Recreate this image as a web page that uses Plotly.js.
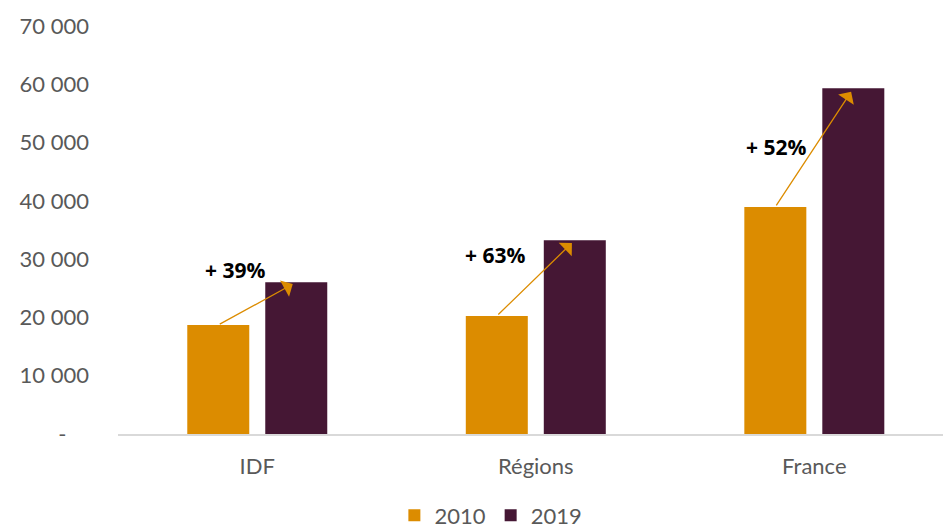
<!DOCTYPE html>
<html>
<head>
<meta charset="utf-8">
<script src="https://cdn.plot.ly/plotly-3.0.1.min.js"></script>
<style>html,body{margin:0;padding:0;background:#fff;}#chart{width:945px;height:528px;}</style>
</head>
<body>
<div id="chart"></div>
<script>
const categories = ["IDF", "Régions", "France"];
const values2010 = [18700, 20250, 38950];
const values2019 = [26050, 33250, 59300];
const growthLabels = ["+ 39%", "+ 63%", "+ 52%"];
const labelX = [-0.08, -0.146, -0.137];
const labelY = [28100, 30700, 49300];
const tickVals = [0, 10000, 20000, 30000, 40000, 50000, 60000, 70000];
const tickText = ["-\u00a0\u00a0\u00a0\u00a0", "10 000", "20 000", "30 000", "40 000", "50 000", "60 000", "70 000"];

const c2010 = "#DC8C00";
const c2019 = "#451734";
const off = 0.140;

const traces = [
  {type: "bar", name: "2010", x: categories, y: values2010, marker: {color: c2010}, hoverinfo: "skip"},
  {type: "bar", name: "2019", x: categories, y: values2019, marker: {color: c2019}, hoverinfo: "skip"}
];

const annotations = [];
categories.forEach((c, i) => {
  annotations.push({
    x: i + off, y: values2019[i], xref: "x", yref: "y",
    ax: i - off, ay: values2010[i], axref: "x", ayref: "y",
    showarrow: true, arrowhead: 1, arrowsize: 2.4, arrowwidth: 1.3,
    arrowcolor: c2010, standoff: 4, startstandoff: 0, text: ""
  });
  annotations.push({
    x: labelX[i] + i, y: labelY[i], xref: "x", yref: "y",
    text: "<b>" + growthLabels[i] + "</b>", showarrow: false,
    font: {family: "Open Sans, sans-serif", size: 21, color: "#000"}
  });
});

const layout = {
  width: 945, height: 528,
  margin: {l: 118, r: 2, t: 26, b: 94, autoexpand: false},
  paper_bgcolor: "#fff", plot_bgcolor: "#fff",
  barmode: "group", bargap: 0.44, bargroupgap: 0.205,
  font: {family: "Lato, sans-serif", size: 22, color: "#595959"},
  showlegend: true,
  legend: {orientation: "h", x: 0.335, xanchor: "left", y: -0.148, yanchor: "top",
           font: {size: 22, color: "#595959"}, itemwidth: 30, traceorder: "normal"},
  xaxis: {range: [-0.5, 2.462], showline: true, linecolor: "#D9D9D9", linewidth: 2, ticks: "", showgrid: false,
          ticklabelstandoff: 12, tickfont: {size: 22, color: "#595959"}},
  yaxis: {range: [0, 70000], tickvals: tickVals, ticktext: tickText, showgrid: false,
          zeroline: false, showline: false, ticks: "", ticklabelstandoff: 28,
          tickfont: {size: 22, color: "#595959"}},
  annotations: annotations
};

Plotly.newPlot("chart", traces, layout, {displayModeBar: false, staticPlot: true});
</script>
</body>
</html>
